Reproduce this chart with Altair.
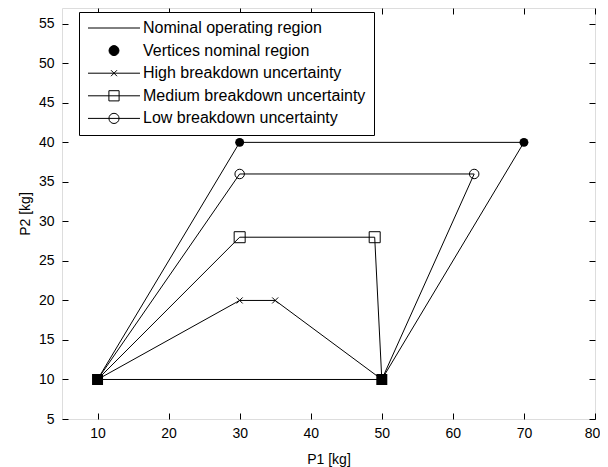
import altair as alt
import pandas as pd

# ---------------- data ----------------
series_names = [
    "Nominal operating region",
    "Vertices nominal region",
    "High breakdown uncertainty",
    "Medium breakdown uncertainty",
    "Low breakdown uncertainty",
]

# polylines (P1, P2) in kg
nominal_x = [10, 30, 70, 50, 10]
nominal_y = [10, 40, 40, 10, 10]
high_x = [10, 30, 35, 50]
high_y = [10, 20, 20, 10]
medium_x = [10, 30, 49, 50]
medium_y = [10, 28, 28, 10]
low_x = [10, 30, 63, 50]
low_y = [10, 36, 36, 10]

# markers
vertex_circle_x = [30, 70]
vertex_circle_y = [40, 40]
vertex_square_x = [10, 50]
vertex_square_y = [10, 10]
high_marker_x = [30, 35]
high_marker_y = [20, 20]
medium_marker_x = [30, 49]
medium_marker_y = [28, 28]
low_marker_x = [30, 63]
low_marker_y = [36, 36]

x_ticks = [10, 20, 30, 40, 50, 60, 70, 80]
y_ticks = [5, 10, 15, 20, 25, 30, 35, 40, 45, 50, 55]
x_domain = [5, 80]
y_domain = [5, 57]

# ---------------- tables ----------------
def line_rows(name, xs, ys):
    return [{"series": name, "idx": i, "x": a, "y": b} for i, (a, b) in enumerate(zip(xs, ys))]

lines_df = pd.DataFrame(
    line_rows(series_names[0], nominal_x, nominal_y)
    + line_rows(series_names[2], high_x, high_y)
    + line_rows(series_names[3], medium_x, medium_y)
    + line_rows(series_names[4], low_x, low_y)
)

def pts(xs, ys):
    return pd.DataFrame({"x": xs, "y": ys})

legend_df = pd.DataFrame({"series": series_names})

W, H = 533, 411
FONT = "Liberation Sans"

xs = alt.Scale(domain=x_domain, nice=False, zero=False)
ys = alt.Scale(domain=y_domain, nice=False, zero=False)

tick_common = dict(labels=False, domain=False, grid=False, ticks=True, tickSize=6,
                   tickColor="black", tickWidth=1)

# main line layer with labelled axes
lines = alt.Chart(lines_df).mark_line(color="black", strokeWidth=1).encode(
    x=alt.X("x:Q", scale=xs, title="P1 [kg]",
            axis=alt.Axis(orient="bottom", values=x_ticks, ticks=False, tickSize=0,
                          domain=False, grid=False, labelPadding=7, titlePadding=12,
                          labelFlush=False, labelOverlap=False,
                          labelOffset={"condition": {"test": "datum.value == 80", "value": -3},
                                       "value": 0},
                          labelFontSize=14, titleFontSize=14, titleFontWeight="normal",
                          labelColor="black", titleColor="black")),
    y=alt.Y("y:Q", scale=ys, title="P2 [kg]",
            axis=alt.Axis(orient="left", values=y_ticks, ticks=False, tickSize=0,
                          domain=False, grid=False, labelPadding=8, titlePadding=6,
                          labelFlush=False, labelOverlap=False,
                          labelFontSize=14, titleFontSize=14, titleFontWeight="normal",
                          labelColor="black", titleColor="black")),
    detail="series:N",
    order="idx:Q",
)

# vertex circles (also carries inward ticks on bottom / left edges)
vertex_circles = alt.Chart(pts(vertex_circle_x, vertex_circle_y)).mark_point(
    shape="circle", filled=True, color="black", size=80, opacity=1
).encode(
    x=alt.X("x:Q", scale=xs, title=None,
            axis=alt.Axis(orient="top", offset=-H, values=x_ticks, **tick_common)),
    y=alt.Y("y:Q", scale=ys, title=None,
            axis=alt.Axis(orient="right", offset=-W, values=y_ticks, **tick_common)),
)

# vertex squares (carries inward ticks on top / right edges)
vertex_squares = alt.Chart(pts(vertex_square_x, vertex_square_y)).mark_square(
    filled=True, color="black", size=121, opacity=1
).encode(
    x=alt.X("x:Q", scale=xs, title=None,
            axis=alt.Axis(orient="bottom", offset=-H, values=x_ticks, **tick_common)),
    y=alt.Y("y:Q", scale=ys, title=None,
            axis=alt.Axis(orient="left", offset=-W, values=y_ticks, **tick_common)),
)

def marker_layer(xv, yv, shape, size):
    return alt.Chart(pts(xv, yv)).mark_point(
        shape=shape, filled=False, color="black", size=size, opacity=1, strokeWidth=1
    ).encode(
        x=alt.X("x:Q", scale=xs, axis=None),
        y=alt.Y("y:Q", scale=ys, axis=None),
    )

high_markers = marker_layer(high_marker_x, high_marker_y, "M-1,-1L1,1M-1,1L1,-1", 36)
medium_markers = marker_layer(medium_marker_x, medium_marker_y, "square", 121)
low_markers = marker_layer(low_marker_x, low_marker_y, "circle", 90)

# legend symbols: line sample with marker in the middle
legend_paths = [
    "M-4.333,0H4.333",
    "M-0.83,0A0.83,0.83 0 1,0 0.83,0A0.83,0.83 0 1,0 -0.83,0Z",
    "M-4.333,0H4.333M-0.5,-0.5L0.5,0.5M-0.5,0.5L0.5,-0.5",
    "M-4.333,0H4.333M-0.85,-0.85H0.85V0.85H-0.85Z",
    "M-4.333,0H4.333M-0.85,0A0.85,0.85 0 1,0 0.85,0A0.85,0.85 0 1,0 -0.85,0Z",
]
legend_fills = ["transparent", "black", "transparent", "transparent", "transparent"]
legend_strokes = ["black"] * 5

legend_opts = dict(
    orient="none", legendX=17, legendY=4, title=None, padding=8,
    strokeColor="black", fillColor="white", cornerRadius=0,
    symbolSize=144, symbolStrokeWidth=1, symbolStrokeColor="black", symbolOpacity=1,
    symbolOffset=19, labelOffset=21, labelFontSize=16, labelFont=FONT,
    labelColor="black", rowPadding=6.6, labelLimit=500,
)

legend_layer = alt.Chart(legend_df).mark_point(
    opacity=1, strokeWidth=1
).encode(
    shape=alt.Shape("series:N", scale=alt.Scale(domain=series_names, range=legend_paths),
                    legend=alt.Legend(**legend_opts)),
    fill=alt.Fill("series:N", scale=alt.Scale(domain=series_names, range=legend_fills),
                  legend=alt.Legend(**legend_opts)),
    stroke=alt.Stroke("series:N", scale=alt.Scale(domain=series_names, range=legend_strokes),
                      legend=alt.Legend(**legend_opts)),
).transform_filter("false")

chart = alt.layer(
    lines, vertex_circles, vertex_squares, high_markers, medium_markers, low_markers, legend_layer
).resolve_axis(
    x="independent", y="independent"
).properties(
    width=W, height=H,
    padding={"left": 54, "top": 0, "right": 5, "bottom": 48},
    autosize=alt.AutoSizeParams(type="none"),
).configure_view(
    stroke="black", strokeWidth=1
).configure_axis(
    labelFont=FONT, titleFont=FONT
).configure(background="white")

chart.save("out.html", embed_options={"renderer": "svg", "actions": False})
